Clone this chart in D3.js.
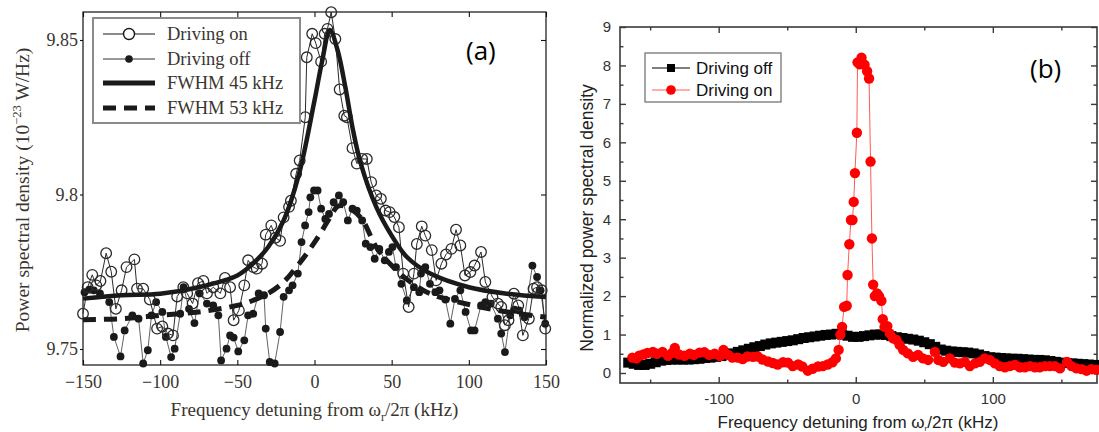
<!DOCTYPE html>
<html>
<head>
<meta charset="utf-8">
<script src="https://cdn.jsdelivr.net/npm/d3@7"></script>
<style>
  body { margin: 0; background: #fff; }
</style>
</head>
<body>
<div id="chart"></div>
<script>
// ---------- panel (a) data ----------
const onFreq = [-150,-147,-144,-141.4,-138.7,-135,-131.7,-128.7,-125,-121.8,
  -116.7,-115,-111,-106.7,-102,-98.6,-95,-91.7,-89,-85,
  -82.5,-79,-75.5,-72,-69.7,-65.6,-61,-58,-54.7,-52.4,
  -49,-45.5,-43,-39.7,-37.4,-34,-31.6,-28,-25.3,-22.3,
  -20,-16.5,-15.3,-11.9,-9.6,-6,-5,-1.5,0.8,4.3,
  6.6,8.4,10.8,13.5,16.3,19.3,21,24.6,27.4,30.9,
  33.9,36.7,40,43,46,48.7,51.7,54.7,57.5,61,
  64.4,66.3,69.5,71.8,76,78.8,82.2,85.2,88.7,91.7,
  94.5,97.5,101,103.7,107.9,110.7,115.3,118.8,121,123.4,
  125.7,129.2,132,135,138.9,141.9,144.2,147.2,149.5]
const onPsd = [9.7614,9.770,9.774,9.7706,9.772,9.781,9.775,9.763,9.769,9.7765,
  9.779,9.7695,9.7695,9.766,9.7566,9.7573,9.755,9.7544,9.767,9.770,
  9.768,9.7647,9.7713,9.772,9.768,9.770,9.768,9.773,9.770,9.7593,
  9.7625,9.7706,9.7787,9.7765,9.776,9.7776,9.787,9.790,9.786,9.785,
  9.7926,9.796,9.798,9.8067,9.811,9.825,9.8444,9.852,9.849,9.843,
  9.852,9.8536,9.859,9.8503,9.834,9.8255,9.825,9.815,9.810,9.8115,
  9.8115,9.804,9.7997,9.7986,9.7948,9.7943,9.7927,9.7894,9.7744,9.7636,
  9.7744,9.784,9.7897,9.7867,9.782,9.7722,9.7776,9.7806,9.7824,9.7886,
  9.7835,9.7738,9.7749,9.777,9.7814,9.7717,9.7668,9.7647,9.7636,9.7577,
  9.7593,9.7679,9.7641,9.7544,9.7598,9.7695,9.770,9.769,9.7566]

const offFreq = [-149,-146,-143,-139,-133,-130,-125.7,-123,-118,-114,
  -111,-108,-105.6,-102.6,-98.6,-96.3,-92.9,-90.6,-87,-84.8,
  -81.3,-77.8,-74.4,-69.7,-65.6,-62.3,-60.5,-57,-54.7,-52.4,
  -49.4,-45.5,-43,-39.7,-36.2,-32.7,-31.6,-29,-25.8,-22.3,
  -20,-16.5,-14.2,-10.8,-8.4,-6.1,-3.8,-2.7,-0.3,2,
  4.3,7,9.4,12.4,15.8,18.6,21.6,24.6,27.4,30.9,
  33.2,36.2,39,42,45.5,48.2,50.5,52.8,56.3,59.8,
  64.4,67.9,69,71.8,74.8,78.3,81,84.8,88,91,
  94.5,97.9,101.4,103.7,107.9,110.7,114.2,118.8,121,123.4,
  126.8,129.6,132.6,136.1,141.2,144.2,146.5,149.5]
const offPsd = [9.7684,9.7692,9.769,9.768,9.7652,9.7539,9.7476,9.756,9.7609,9.7598,
  9.7453,9.7496,9.7609,9.7652,9.762,9.7539,9.7474,9.7501,9.7614,9.770,
  9.763,9.7584,9.768,9.7647,9.7641,9.7609,9.7463,9.7501,9.7544,9.7537,
  9.7492,9.7528,9.7609,9.7614,9.768,9.7674,9.7566,9.7458,9.7453,9.7555,
  9.7669,9.769,9.7706,9.7744,9.7846,9.790,9.7943,9.7991,9.8013,9.8013,
  9.7954,9.7921,9.7937,9.7975,9.7997,9.7975,9.7916,9.7954,9.7948,9.7916,
  9.7841,9.783,9.7792,9.7824,9.7787,9.7814,9.783,9.7765,9.7711,9.7657,
  9.770,9.7684,9.7744,9.7765,9.7711,9.7684,9.769,9.766,9.7582,9.7662,
  9.769,9.762,9.756,9.756,9.7641,9.7652,9.7647,9.7598,9.755,9.749,
  9.7609,9.7627,9.7625,9.7603,9.777,9.7733,9.769,9.7582]

const fit45Freq = [-150,-125,-100,-75,-50,-40,-30,-20,-10,0,5,10,15,20,25,30,40,50,60,75,100,125,150]
const fit45Psd = [9.7663,9.7674,9.7679,9.770,9.7738,9.7776,9.783,9.7916,9.8067,9.8304,9.8433,9.8532,
  9.8466,9.8347,9.8207,9.810,9.796,9.7867,9.7797,9.7744,9.770,9.7679,9.7668]
const fit53Freq = [-150,-125,-100,-75,-50,-40,-30,-20,-10,0,10,15,20,30,40,50,60,75,100,125,150]
const fit53Psd = [9.7595,9.7598,9.7609,9.762,9.7641,9.7657,9.768,9.7717,9.7776,9.7845,9.7925,9.7962,
  9.7962,9.7925,9.783,9.777,9.7725,9.7679,9.7644,9.762,9.7603]

const aTicksX = [-150, -100, -50, 0, 50, 100, 150]
const aTicksY = [9.75, 9.8, 9.85]

// ---------- panel (b) data ----------
const bOffFreq = [-166,-162,-158,-154,-150,-146,-142,-138,-134,-130,-126,-122,-118,-114,-110,-106,-102,-98,-94,-90,
  -86,-82,-78,-74,-70,-66,-62,-58,-54,-50,-46,-42,-38,-34,-30,-26,-22,-18,-14,-10,
  -6,-2,2,6,10,14,18,22,26,30,34,38,42,46,50,54,58,62,66,70,
  74,78,82,86,90,94,98,102,106,110,114,118,122,126,130,134,138,142,146,150,
  154,158,162,166,170,174,178]
const bOffPsd = [0.27,0.24,0.21,0.21,0.24,0.28,0.32,0.34,0.35,0.35,0.35,0.35,0.36,0.37,0.39,0.40,0.42,0.44,0.47,0.51,
  0.55,0.59,0.63,0.67,0.70,0.74,0.77,0.79,0.81,0.83,0.85,0.88,0.91,0.93,0.95,0.97,0.99,1.00,1.02,1.00,
  0.97,0.94,0.94,0.96,0.98,1.00,1.00,0.99,0.96,0.93,0.91,0.89,0.87,0.84,0.80,0.75,0.68,0.61,0.58,0.56,
  0.55,0.54,0.53,0.51,0.48,0.44,0.41,0.40,0.39,0.38,0.37,0.37,0.36,0.35,0.34,0.34,0.33,0.31,0.29,0.27,
  0.26,0.25,0.24,0.23,0.22,0.21,0.20]

const bOnFreq = [-163,-160,-158,-155,-152,-148,-145,-141,-137,-134,-132,-129,-125,-121,-118,-114,-110.5,-107,-103,-99,
  -96.5,-93,-90,-86,-82.5,-79,-75,-71.5,-68,-64,-60.5,-57,-53,-49.5,-46,-42,-39,-35,-31.5,-27.5,
  -24,-20.5,-17,-14.5,-12.5,-11.2,-10,-8.5,-6.6,-6,-4.7,-3.5,-2.4,-1.5,-0.6,0.8,1.3,2.8,4.2,6.4,
  8.3,9.7,10.8,11.8,12.7,13.9,15.5,17,18.7,19.7,21,23,24.8,27.2,29.7,32,34.6,38,41.8,45.5,
  49,52.8,57.7,60.2,63.8,68.6,72.3,76,79.5,83.2,87,90.5,94,97.8,101.5,105,108.8,112.4,116,119.7,
  123.4,127,130.7,134.3,138,141.6,145.3,149,154.2,157.4,161,164.8,168.4,172,175.7]
const bOnPsd = [0.40,0.38,0.45,0.48,0.52,0.55,0.50,0.55,0.45,0.52,0.65,0.48,0.45,0.50,0.47,0.53,0.54,0.47,0.50,0.44,
  0.60,0.47,0.40,0.40,0.36,0.43,0.42,0.43,0.35,0.30,0.26,0.22,0.28,0.27,0.18,0.22,0.17,0.06,0.11,0.17,
  0.18,0.22,0.28,0.38,0.60,1.00,1.20,1.72,1.75,2.55,3.35,3.98,3.98,4.45,5.20,6.25,8.08,8.03,8.20,8.02,
  7.85,7.66,5.50,3.50,2.30,2.00,2.07,2.00,1.88,1.40,1.20,1.22,1.03,0.90,0.86,0.73,0.60,0.51,0.42,0.47,
  0.38,0.34,0.55,0.34,0.29,0.38,0.27,0.25,0.29,0.18,0.25,0.29,0.38,0.34,0.25,0.18,0.15,0.18,0.21,0.15,
  0.15,0.18,0.15,0.15,0.18,0.18,0.18,0.12,0.29,0.18,0.12,0.10,0.06,0.10,0.08]

const bTicksX = [-100, 0, 100]
const bMinorX = [-150, -50, 50, 150]
const bTicksY = [0, 1, 2, 3, 4, 5, 6, 7, 8, 9]
const bMinorY = [0.5, 1.5, 2.5, 3.5, 4.5, 5.5, 6.5, 7.5, 8.5]

const svg = d3
  .select('#chart')
  .append('svg')
  .attr('width', 1099)
  .attr('height', 432)

svg.append('rect').attr('width', 1099).attr('height', 432).attr('fill', '#fff')

// ================= panel (a) =================
const serif = "'Liberation Serif', 'Times New Roman', serif"
const aLeft = 83, aRight = 546, aTop = 12, aBottom = 365

const xa = d3.scaleLinear().domain([-150, 150]).range([aLeft, aRight])
const ya = d3.scaleLinear().domain([9.75, 9.85]).range([349, 40])

const ga = svg.append('g')

function styleAxis(g, color, width) {
  g.select('.domain').attr('stroke', color).attr('stroke-width', width)
  g.selectAll('.tick line').attr('stroke', color).attr('stroke-width', width)
}

// axes (ticks pointing into the box, left ticks outward)
const axB = ga.append('g')
  .attr('transform', 'translate(0,' + aBottom + ')')
  .call(d3.axisBottom(xa).tickValues(aTicksX).tickSize(-5).tickSizeOuter(0).tickPadding(10))
const axT = ga.append('g')
  .attr('transform', 'translate(0,' + aTop + ')')
  .call(d3.axisTop(xa).tickValues(aTicksX).tickSize(-5).tickSizeOuter(0).tickFormat(''))
const axL = ga.append('g')
  .attr('transform', 'translate(' + aLeft + ',0)')
  .call(d3.axisLeft(ya).tickValues(aTicksY).tickSize(3).tickSizeOuter(0).tickPadding(2)
    .tickFormat(d => d === 9.8 ? '9.8' : d.toFixed(2)))
const axR = ga.append('g')
  .attr('transform', 'translate(' + aRight + ',0)')
  .call(d3.axisRight(ya).tickValues(aTicksY).tickSize(-5).tickSizeOuter(0).tickFormat(''))

// the scale range only covers the ticks, so redraw the frame on the real box
ga.selectAll('.domain').remove()
ga.append('rect')
  .attr('x', aLeft).attr('y', aTop)
  .attr('width', aRight - aLeft).attr('height', aBottom - aTop)
  .attr('fill', 'none').attr('stroke', '#111').attr('stroke-width', 1.2)

;[axB, axT, axL, axR].forEach(g => styleAxis(g, '#111', 1.1))
ga.selectAll('.tick text')
  .attr('font-family', serif).attr('font-size', 18).attr('fill', '#3a3530')

// data lines
const onPts = onFreq.map((f, i) => [f, onPsd[i]])
const offPts = offFreq.map((f, i) => [f, offPsd[i]])
const lineA = d3.line().x(d => xa(d[0])).y(d => ya(d[1]))

ga.append('path').datum(offPts).attr('d', lineA)
  .attr('fill', 'none').attr('stroke', '#3a3a3a').attr('stroke-width', 0.8)
ga.append('path').datum(onPts).attr('d', lineA)
  .attr('fill', 'none').attr('stroke', '#2a2a2a').attr('stroke-width', 1)

ga.selectAll('.off-dot')
  .data(offPts)
  .enter()
  .append('circle')
  .attr('class', 'off-dot')
  .attr('cx', d => xa(d[0]))
  .attr('cy', d => ya(d[1]))
  .attr('r', 3.9)
  .attr('fill', '#1a1a1a')

ga.selectAll('.on-circle')
  .data(onPts)
  .enter()
  .append('circle')
  .attr('class', 'on-circle')
  .attr('cx', d => xa(d[0]))
  .attr('cy', d => ya(d[1]))
  .attr('r', 5.3)
  .attr('fill', 'none')
  .attr('stroke', '#2a2a2a')
  .attr('stroke-width', 1.3)

// fit curves
const fitLine = d3.line().x(d => xa(d[0])).y(d => ya(d[1])).curve(d3.curveCatmullRom)
ga.append('path')
  .datum(fit53Freq.map((f, i) => [f, fit53Psd[i]]))
  .attr('d', fitLine)
  .attr('fill', 'none').attr('stroke', '#1a1a1a')
  .attr('stroke-width', 5).attr('stroke-dasharray', '13,8')
ga.append('path')
  .datum(fit45Freq.map((f, i) => [f, fit45Psd[i]]))
  .attr('d', fitLine)
  .attr('fill', 'none').attr('stroke', '#1a1a1a').attr('stroke-width', 4.5)

// legend (a)
const legA = ga.append('g')
legA.append('rect')
  .attr('x', 93).attr('y', 18).attr('width', 207).attr('height', 105)
  .attr('fill', '#fff').attr('stroke', '#8a8a8a').attr('stroke-width', 2)
const legARows = [
  { label: 'Driving on', y: 34, w: 1.2, dash: null, mark: 'open' },
  { label: 'Driving off', y: 59, w: 0.9, dash: null, mark: 'dot' },
  { label: 'FWHM 45 kHz', y: 83, w: 5, dash: null, mark: null },
  { label: 'FWHM 53 kHz', y: 108, w: 5, dash: '13,8', mark: null }
]
legARows.forEach(r => {
  legA.append('line')
    .attr('x1', 103).attr('x2', 155).attr('y1', r.y).attr('y2', r.y)
    .attr('stroke', '#1a1a1a').attr('stroke-width', r.w)
    .attr('stroke-dasharray', r.dash)
  if (r.mark === 'open') {
    legA.append('circle').attr('cx', 129).attr('cy', r.y).attr('r', 5.5)
      .attr('fill', '#fff').attr('stroke', '#1a1a1a').attr('stroke-width', 1.4)
  }
  if (r.mark === 'dot') {
    legA.append('circle').attr('cx', 129).attr('cy', r.y).attr('r', 3.8).attr('fill', '#1a1a1a')
  }
  legA.append('text')
    .attr('x', 167).attr('y', r.y).attr('dy', '0.35em')
    .attr('font-family', serif).attr('font-size', 18.5).attr('fill', '#3a3530')
    .text(r.label)
})

// axis titles (a)
const xTitleA = ga.append('text')
  .attr('x', (aLeft + aRight) / 2).attr('y', 416)
  .attr('text-anchor', 'middle')
  .attr('font-family', serif).attr('font-size', 19).attr('fill', '#3a3530')
xTitleA.append('tspan').text('Frequency detuning from \u03C9')
xTitleA.append('tspan').attr('font-size', 12).attr('dy', 5).text('r')
xTitleA.append('tspan').attr('dy', -5).text('/2\u03C0 (kHz)')

const yTitleA = ga.append('text')
  .attr('transform', 'translate(29,190) rotate(-90)')
  .attr('text-anchor', 'middle')
  .attr('font-family', serif).attr('font-size', 19.5).attr('fill', '#3a3530')
yTitleA.append('tspan').text('Power spectral density (10')
yTitleA.append('tspan').attr('font-size', 12.5).attr('dy', -8).text('\u221223')
yTitleA.append('tspan').attr('dy', 8).text(' W/Hz)')

ga.append('text')
  .attr('x', 466).attr('y', 60)
  .attr('font-family', "'Open Sans', sans-serif").attr('font-size', 26).attr('fill', '#000')
  .text('(a)')

// ================= panel (b) =================
const sans = "'Liberation Sans', Arial, sans-serif"
const bLeft = 620, bRight = 1097, bTop = 27, bBottom = 383

const xb = d3.scaleLinear().domain([-172, 176]).range([bLeft, bRight])
const yb = d3.scaleLinear().domain([0, 9]).range([373, 27])

const gb = svg.append('g')

const bxAxis = gb.append('g')
  .attr('transform', 'translate(0,' + bBottom + ')')
  .call(d3.axisBottom(xb).tickValues(bTicksX).tickSize(-6).tickSizeOuter(0).tickPadding(10)
    .tickFormat(d => String(d)))
const bxMinor = gb.append('g')
  .attr('transform', 'translate(0,' + bBottom + ')')
  .call(d3.axisBottom(xb).tickValues(bMinorX).tickSize(-3.5).tickSizeOuter(0).tickFormat(''))
const bxTop = gb.append('g')
  .attr('transform', 'translate(0,' + bTop + ')')
  .call(d3.axisTop(xb).tickValues(bTicksX).tickSize(-6).tickSizeOuter(0).tickFormat(''))
const bxTopMinor = gb.append('g')
  .attr('transform', 'translate(0,' + bTop + ')')
  .call(d3.axisTop(xb).tickValues(bMinorX).tickSize(-3.5).tickSizeOuter(0).tickFormat(''))
const byAxis = gb.append('g')
  .attr('transform', 'translate(' + bLeft + ',0)')
  .call(d3.axisLeft(yb).tickValues(bTicksY).tickSize(-6).tickSizeOuter(0).tickPadding(9))
const byMinor = gb.append('g')
  .attr('transform', 'translate(' + bLeft + ',0)')
  .call(d3.axisLeft(yb).tickValues(bMinorY).tickSize(-3.5).tickSizeOuter(0).tickFormat(''))
const byRight = gb.append('g')
  .attr('transform', 'translate(' + bRight + ',0)')
  .call(d3.axisRight(yb).tickValues(bTicksY).tickSize(-6).tickSizeOuter(0).tickFormat(''))
const byRightMinor = gb.append('g')
  .attr('transform', 'translate(' + bRight + ',0)')
  .call(d3.axisRight(yb).tickValues(bMinorY).tickSize(-3.5).tickSizeOuter(0).tickFormat(''))

gb.selectAll('.domain').remove()
gb.append('rect')
  .attr('x', bLeft).attr('y', bTop)
  .attr('width', bRight - bLeft).attr('height', bBottom - bTop)
  .attr('fill', 'none').attr('stroke', '#3a3a3a').attr('stroke-width', 1.6)
;[bxAxis, bxMinor, bxTop, bxTopMinor, byAxis, byMinor, byRight, byRightMinor]
  .forEach(g => styleAxis(g, '#3a3a3a', 1.4))
gb.selectAll('.tick text')
  .attr('font-family', sans).attr('font-size', 15).attr('fill', '#333')

const lineB = d3.line().x(d => xb(d[0])).y(d => yb(d[1]))
const bOffPts = bOffFreq.map((f, i) => [f, bOffPsd[i]])
const bOnPts = bOnFreq.map((f, i) => [f, bOnPsd[i]])

gb.append('path').datum(bOffPts).attr('d', lineB)
  .attr('fill', 'none').attr('stroke', '#000').attr('stroke-width', 1)
gb.selectAll('.b-off')
  .data(bOffPts)
  .enter()
  .append('rect')
  .attr('class', 'b-off')
  .attr('x', d => xb(d[0]) - 5)
  .attr('y', d => yb(d[1]) - 5)
  .attr('width', 10)
  .attr('height', 10)
  .attr('fill', '#000')

gb.append('path').datum(bOnPts).attr('d', lineB)
  .attr('fill', 'none').attr('stroke', '#ff5a5a').attr('stroke-width', 1)
gb.selectAll('.b-on')
  .data(bOnPts)
  .enter()
  .append('circle')
  .attr('class', 'b-on')
  .attr('cx', d => xb(d[0]))
  .attr('cy', d => yb(d[1]))
  .attr('r', 5.2)
  .attr('fill', '#ff0000')

// legend (b)
const legB = gb.append('g')
legB.append('rect')
  .attr('x', 645).attr('y', 53).attr('width', 136).attr('height', 49)
  .attr('fill', '#fff').attr('stroke', '#6a6a6a').attr('stroke-width', 1.2)
legB.append('line').attr('x1', 652).attr('x2', 690).attr('y1', 68).attr('y2', 68)
  .attr('stroke', '#000').attr('stroke-width', 1)
legB.append('rect').attr('x', 667).attr('y', 64).attr('width', 8).attr('height', 8).attr('fill', '#000')
legB.append('line').attr('x1', 652).attr('x2', 690).attr('y1', 90).attr('y2', 90)
  .attr('stroke', '#ff5a5a').attr('stroke-width', 1)
legB.append('circle').attr('cx', 671).attr('cy', 90).attr('r', 4.8).attr('fill', '#ff0000')
legB.append('text').attr('x', 696).attr('y', 68).attr('dy', '0.35em')
  .attr('font-family', sans).attr('font-size', 17).attr('fill', '#111').text('Driving off')
legB.append('text').attr('x', 696).attr('y', 90).attr('dy', '0.35em')
  .attr('font-family', sans).attr('font-size', 17).attr('fill', '#111').text('Driving on')

// axis titles (b)
const xTitleB = gb.append('text')
  .attr('x', 858).attr('y', 428)
  .attr('text-anchor', 'middle')
  .attr('font-family', sans).attr('font-size', 17).attr('fill', '#222')
xTitleB.append('tspan').text('Frequency detuning from \u03C9')
xTitleB.append('tspan').attr('font-size', 8).attr('dy', 3).text('r')
xTitleB.append('tspan').attr('dy', -3).text('/2\u03C0 (kHz)')

gb.append('text')
  .attr('transform', 'translate(593,218) rotate(-90)')
  .attr('text-anchor', 'middle')
  .attr('font-family', sans).attr('font-size', 17.5).attr('fill', '#222')
  .text('Normalized power spectral density')

gb.append('text')
  .attr('x', 1030).attr('y', 78)
  .attr('font-family', "'Open Sans', sans-serif").attr('font-size', 26).attr('fill', '#000')
  .text('(b)')
</script>
</body>
</html>
